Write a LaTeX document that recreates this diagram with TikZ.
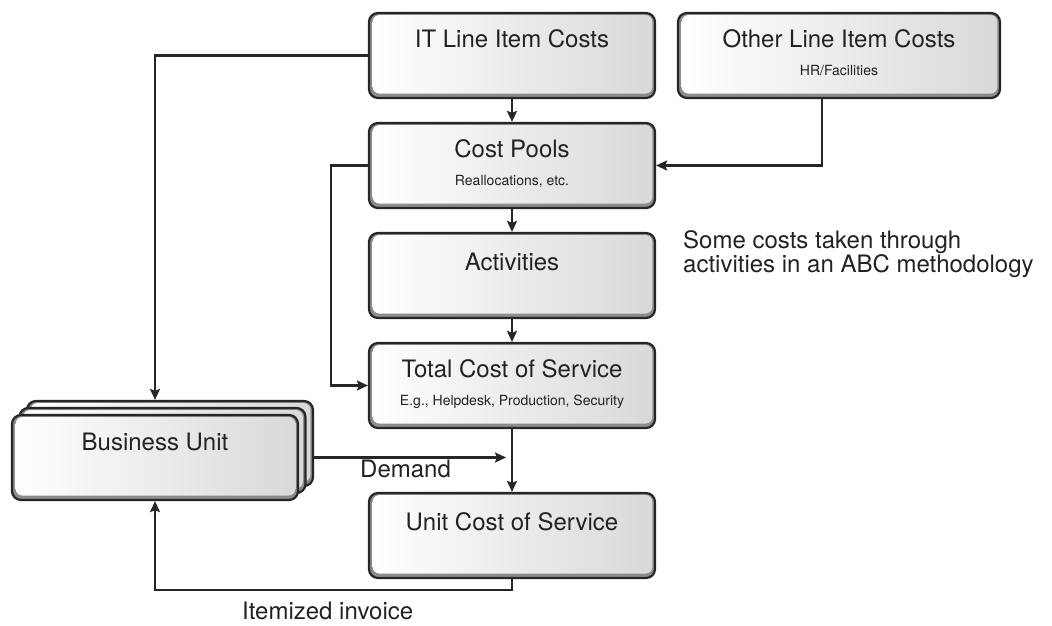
\documentclass[tikz,border=0pt]{standalone}
\usepackage{fontspec}
\setmainfont{TeX Gyre Heros}
\usetikzlibrary{arrows.meta,calc}
\definecolor{ink}{HTML}{222222}
\definecolor{edge}{HTML}{262626}
\tikzset{
  box/.style={rectangle, minimum width=286pt, minimum height=85pt, inner sep=0pt,
    rounded corners=9pt, draw=edge, line width=2.2pt, fill=black!45,
    path picture={\shade[rounded corners=7pt, left color=white, right color=black!15]
      ($(path picture bounding box.south west)+(3.6pt,4.4pt)$) rectangle
      ($(path picture bounding box.north east)+(-2.6pt,-2pt)$);}},
  title/.style={anchor=base, inner sep=0pt, text=ink, font=\fontsize{24}{28}\selectfont},
  sub/.style={anchor=base, inner sep=0pt, text=ink, font=\fontsize{14}{16}\selectfont},
  free/.style={anchor=base west, inner sep=0pt, text=ink, font=\fontsize{24}{23.5}\selectfont, align=left},
  arr/.style={draw=edge, line width=2.2pt, -{Stealth[length=11pt,width=10pt,inset=2pt]}}
}
\begin{document}
\begin{tikzpicture}[x=1pt,y=-1pt]
\path[use as bounding box, fill=white] (0,0) rectangle (1052,626);

% boxes
\node[box] (it) at (512,55.5) {};
\node[box, minimum width=322pt] (oth) at (839,55.5) {};
\node[box] (cp) at (512,165.5) {};
\node[box] (act) at (512,275.5) {};
\node[box] (tc) at (512,385.5) {};
\node[box] (uc) at (512,535.5) {};
\node[box] (bu3) at (170,443.5) {};
\node[box] (bu2) at (162.5,450.5) {};
\node[box] (bu) at (155,457.5) {};

% texts
\node[title] (itT) at (512,48) {IT Line Item Costs};
\node[title] (othT) at (839,48) {Other Line Item Costs};
\node[sub] (othS) at (839,75) {HR/Facilities};
\node[title] (cpT) at (512,157) {Cost Pools};
\node[sub] (cpS) at (512,185) {Reallocations, etc.};
\node[title] (actT) at (512,270) {Activities};
\node[title] (tcT) at (512,377) {Total Cost of Service};
\node[sub] (tcS) at (512,405) {E.g., Helpdesk, Production, Security};
\node[title] (ucT) at (512,530) {Unit Cost of Service};
\node[title] (buT) at (155,450) {Business Unit};
\node[free] (abc) at (683,272) {Some costs taken through\\activities in an ABC methodology};
\node[free] (demT) at (360,477) {Demand};
\node[free] (invT) at (242,619) {Itemized invoice};

% connectors
\coordinate (dem) at (506,457.5);
\draw[arr] (it.west) -| (bu.north |- bu3.north);
\draw[arr] (it.south) -- (cp.north);
\draw[arr] ([xshift=-17pt]oth.south) |- (cp.east);
\draw[arr] (cp.west) -- ++(-37,0) |- (tc.west);
\draw[arr] (cp.south) -- (act.north);
\draw[arr] (act.south) -- (tc.north);
\draw[arr] (tc.south) -- (uc.north);
\draw[arr] (bu3.east |- bu.east) -- (dem);
\draw[arr] (uc.south) -- ++(0,11) -| (bu.south);
\end{tikzpicture}
\end{document}
